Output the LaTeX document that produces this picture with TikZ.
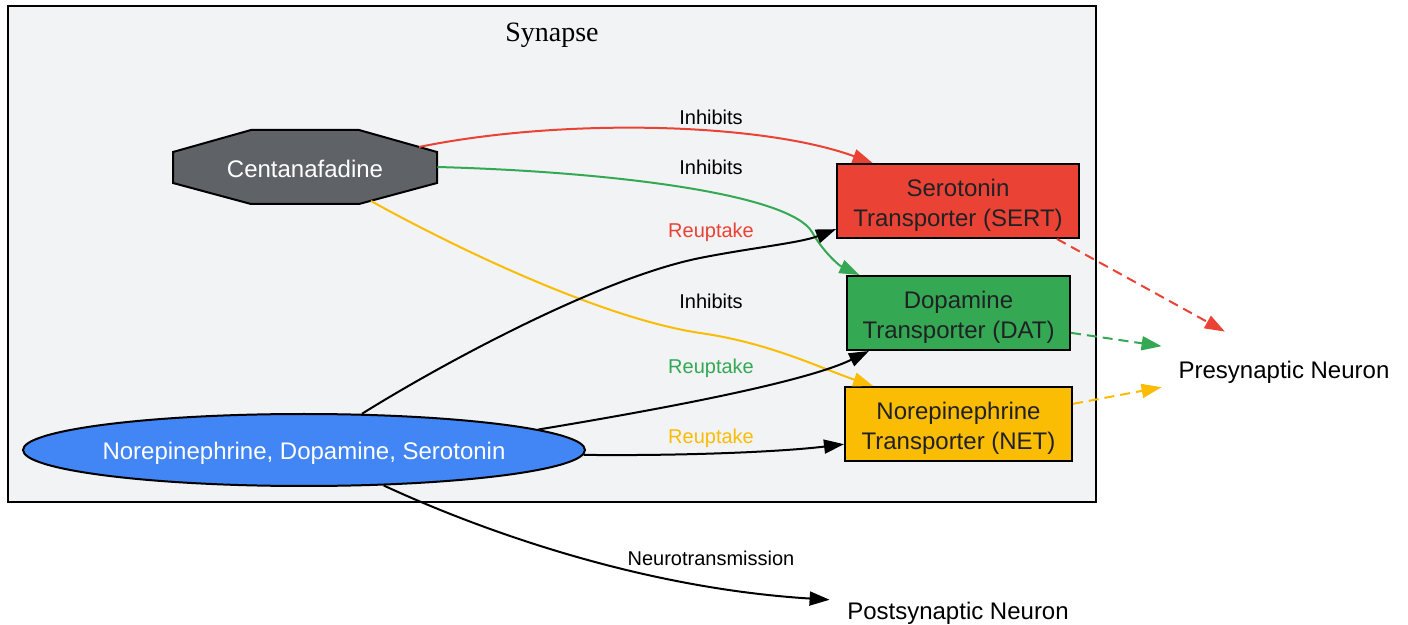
\documentclass[tikz,border=0pt]{standalone}
\usepackage{fontspec}
\setmainfont{Liberation Sans}
\newfontfamily\clusterfont{Liberation Serif}
\usetikzlibrary{arrows.meta,shapes.geometric,calc}
\definecolor{gred}{HTML}{EA4335}
\definecolor{ggreen}{HTML}{34A853}
\definecolor{gyellow}{HTML}{FBBC04}
\definecolor{gblue}{HTML}{4285F4}
\definecolor{ggrey}{HTML}{5F6368}
\definecolor{gtext}{HTML}{202124}
\definecolor{clusterbg}{HTML}{F1F3F4}
\begin{document}
\begin{tikzpicture}[x=0.5pt,y=-0.5pt,
  nodefont/.style={font=\fontsize{12}{15}\selectfont},
  txt/.style={nodefont,align=center,inner sep=0pt},
  transporter/.style={draw=black,line width=1pt,minimum height=37pt,inner sep=0pt},
  edge/.style={line width=1pt,-{Triangle[length=10pt,width=7pt]}},
  dashedge/.style={edge,dash pattern=on 5pt off 3pt},
  lbl/.style={font=\fontsize{10}{12}\selectfont,inner sep=0pt}]
\useasboundingbox (0,0) rectangle (1408,625);

% cluster
\node[draw=black,line width=0.9pt,fill=clusterbg,minimum width=544pt,minimum height=248pt,inner sep=0pt] (synapse) at (552,254) {};
\node[font=\clusterfont\fontsize{14}{16}\selectfont,inner sep=0pt] (synlabel) at (552,35) {Synapse};

% octagon for Centanafadine
\filldraw[fill=ggrey,draw=black,line width=1pt] (173,152) -- (251,130) -- (359,130) -- (437,152) -- (437,183) -- (359,204) -- (251,204) -- (173,183) -- cycle;
\node[minimum width=132pt,minimum height=37pt,inner sep=0pt,
  label={[txt,text=white,yshift=-1pt]center:Centanafadine}] (cent) at (305,167) {};

% neurotransmitters
\node[ellipse,draw=black,line width=1pt,fill=gblue,minimum width=281pt,minimum height=36pt,inner sep=0pt,
  label={[txt,text=white,yshift=-1.5pt]center:Norepinephrine, Dopamine, Serotonin}] (ndsn) at (304,450) {};

% transporters
\node[transporter,fill=gred,minimum width=121pt,
  label={[txt,text=gtext,yshift=-2pt]center:Serotonin\\Transporter (SERT)}] (sert) at (958,201) {};
\node[transporter,fill=ggreen,minimum width=111.5pt,
  label={[txt,text=gtext,yshift=-2pt]center:Dopamine\\Transporter (DAT)}] (dat) at (958.5,313) {};
\node[transporter,fill=gyellow,minimum width=113.5pt,
  label={[txt,text=gtext,yshift=-2pt]center:Norepinephrine\\Transporter (NET)}] (net) at (958.5,424) {};

% neurons
\node[minimum width=122pt,minimum height=38pt,inner sep=0pt,
  label={[txt,yshift=-1pt]center:Presynaptic Neuron}] (pre) at (1284,370) {};
\node[minimum width=128pt,minimum height=18pt,inner sep=0pt,
  label={[txt,yshift=-1pt]center:Postsynaptic Neuron}] (post) at (958,611) {};

% inhibits edges
\draw[edge,gred] ($(cent.center)+(114,-20)$) .. controls (560,118) and (760,122) .. (sert.156.5);
\draw[edge,ggreen] (cent.east) .. controls (620,172) and (790,195) .. (812,232) .. controls (822,250) and (838,265) .. (dat.159.8);
\draw[edge,gyellow] ($(cent.center)+(66,34)$) .. controls (450,245) and (600,318) .. (700,333) .. controls (770,343) and (820,368) .. (net.156.1);

% reuptake edges
\draw[edge] (ndsn.32) .. controls (440,365) and (600,278) .. (700,258) .. controls (750,248) and (800,243) .. (sert.193.5);
\draw[edge] (ndsn.5.6) .. controls (620,416) and (800,385) .. (dat.203.4);
\draw[edge] (ndsn.-1.2) .. controls (680,456) and (780,452) .. (net.190);

% neurotransmission
\draw[edge] (ndsn.-24.5) .. controls (480,530) and (640,588) .. (post.175.5);

% dashed edges to presynaptic neuron
\draw[dashedge,gred] (sert.-21.1) -- (pre.147.2);
\draw[dashedge,ggreen] (dat.-10.2) -- (pre.169.8);
\draw[dashedge,gyellow] (net.10) -- (pre.188.4);

% labels
\node[lbl] (l1) at (711,117) {Inhibits};
\node[lbl] (l2) at (711,167) {Inhibits};
\node[lbl,text=gred] (l3) at (711,232) {Reuptake};
\node[lbl] (l4) at (711,301) {Inhibits};
\node[lbl,text=ggreen] (l5) at (711,368) {Reuptake};
\node[lbl,text=gyellow] (l6) at (711,438) {Reuptake};
\node[lbl] (l7) at (711,558) {Neurotransmission};
\end{tikzpicture}
\end{document}
